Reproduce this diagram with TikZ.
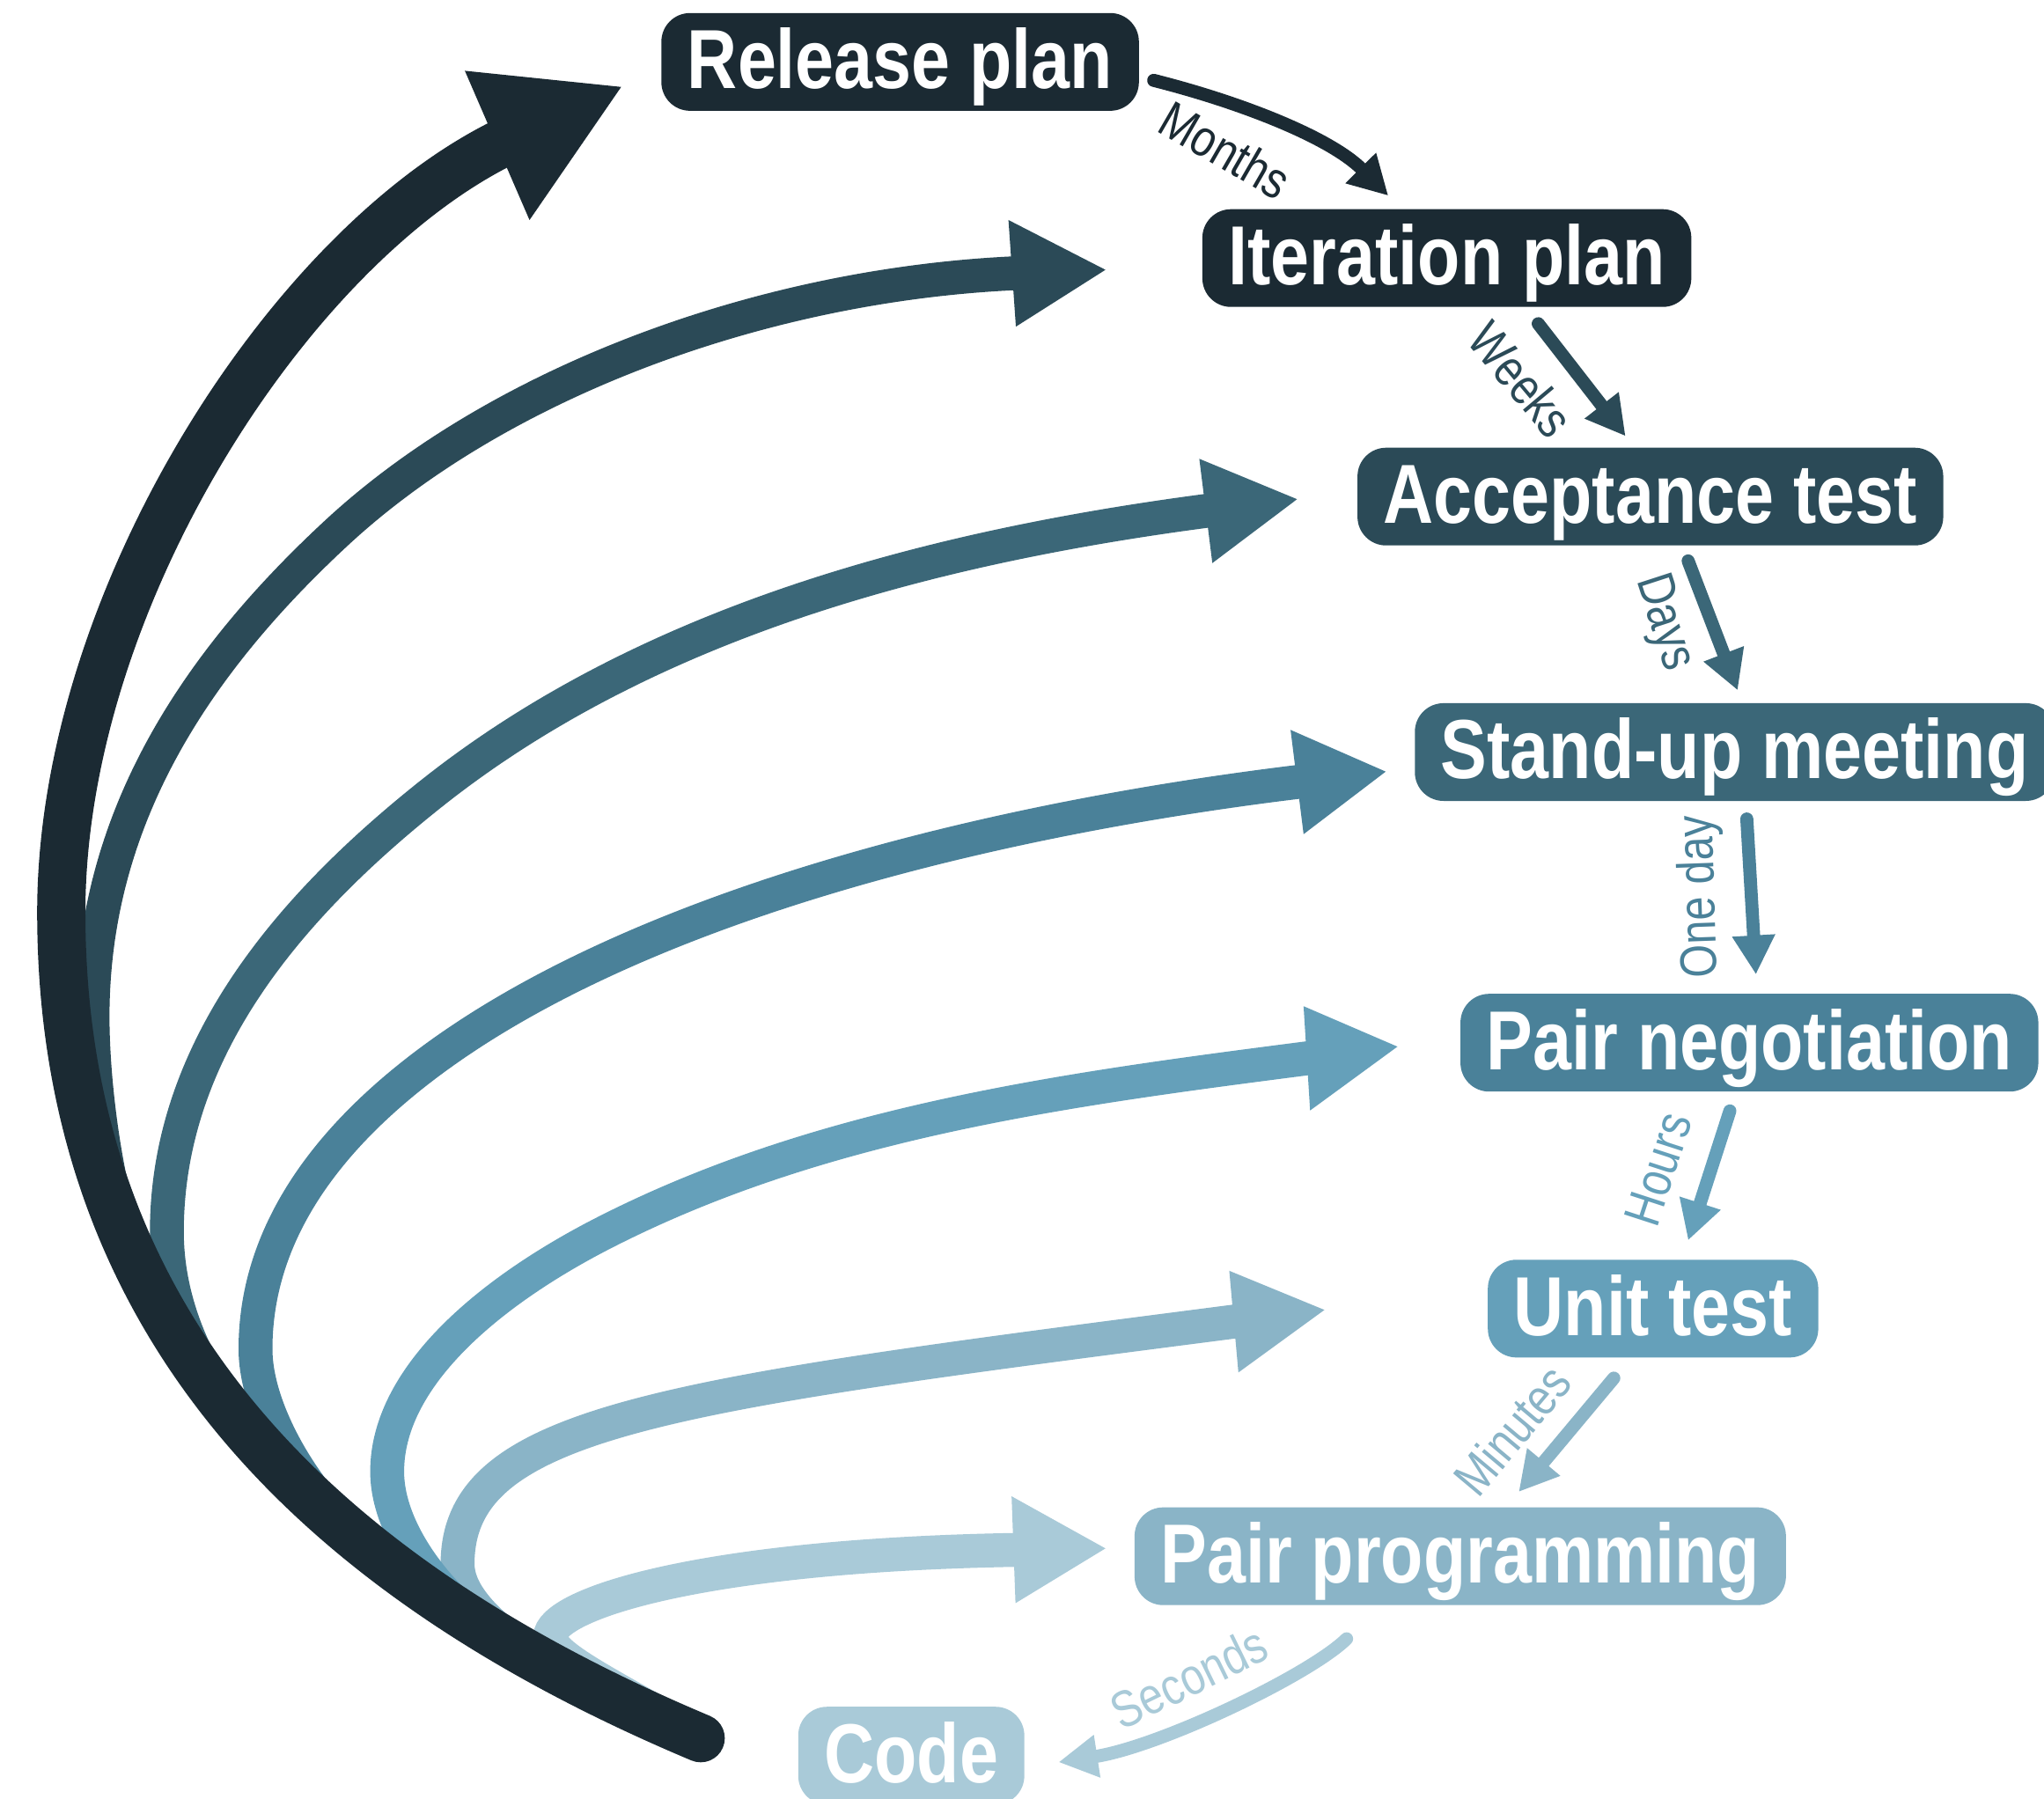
\documentclass[tikz,border=0pt]{standalone}
\usepackage{fontspec}
\setmainfont{Liberation Sans}[FakeStretch=0.83]
\usetikzlibrary{arrows.meta}
\definecolor{cA}{HTML}{1B2A33}
\definecolor{cB}{HTML}{2B4A57}
\definecolor{cC}{HTML}{3B6778}
\definecolor{cD}{HTML}{4A8199}
\definecolor{cE}{HTML}{65A0BA}
\definecolor{cF}{HTML}{8AB4C7}
\definecolor{cG}{HTML}{A9CAD8}
\begin{document}
\begin{tikzpicture}[x=0.02cm, y=-0.02cm,
  box/.style={rounded corners=0.44cm, inner xsep=0.4cm, inner ysep=0.24cm,
    text height=0.92cm, text depth=0.1cm, text=white,
    font=\fontsize{36.6}{40}\selectfont\bfseries, anchor=west},
  bigarrow/.style={line width=0.52cm},
  darkarrow/.style={line width=0.74cm, line cap=round, cA},
  smallarrow/.style={line width=0.2cm, line cap=round, -{Triangle[length=0.6cm,width=0.62cm]}},
  lab/.style={font=\fontsize{22.5}{26}\selectfont, inner sep=0pt}
]
\fill[white] (0,0) rectangle (1568,1380);
\useasboundingbox (0,0) rectangle (1568,1380);
\clip (0,0) rectangle (1568,1380);

% ---------- big curved arrows (lightest first) ----------
\draw[bigarrow, cG] (537.5,1333.6) .. controls (480,1298) and (422,1272) .. (422,1256)
  .. controls (422,1231) and (537.5,1192.5) .. (787.5,1189);
\fill[cG] (776,1148) -- (848,1188) -- (779,1230) -- cycle;

\draw[bigarrow, cF] (456.5,1296.5) .. controls (420.7,1278.6) and (351,1240) .. (351,1200)
  .. controls (351,1090) and (510.4,1070.3) .. (956.4,1012.7);
\fill[cF] (943,975) -- (1016,1005) -- (950,1053) -- cycle;

\draw[bigarrow, cE] (380.3,1254.7) .. controls (346,1234) and (297,1180) .. (297,1129)
  .. controls (297,1054) and (380.3,988) .. (465,945)
  .. controls (634.5,858.9) and (824.1,835) .. (1012.4,810.7);
\fill[cE] (1000,772) -- (1072,803) -- (1005,852) -- cycle;

\draw[bigarrow, cD] (276.5,1182.2) .. controls (237.8,1150.6) and (196,1085) .. (196,1035)
  .. controls (196,940) and (259,865.7) .. (336,810)
  .. controls (498,692.8) and (766.7,626.9) .. (1005,598.8);
\fill[cD] (990,560) -- (1063,592) -- (1000,640) -- cycle;

\draw[bigarrow, cC] (188.5,1096.8) .. controls (156,1058.9) and (128,1005) .. (128,945)
  .. controls (128,805) and (222.2,695) .. (332,608)
  .. controls (500.6,474.5) and (721.7,418) .. (935,390.7);
\fill[cC] (920,352) -- (995,383) -- (930,432) -- cycle;

\draw[bigarrow, cB] (100.6,960.3) .. controls (84,924) and (71,840) .. (71,780)
  .. controls (71,630) and (148,511) .. (258,409)
  .. controls (382.6,293.4) and (586.2,216.9) .. (786,209.3);
\fill[cB] (773.6,168.8) -- (848,207) -- (779.3,250.6) -- cycle;

\draw[darkarrow] (537.5,1333.6) .. controls (260.9,1217.2) and (47,1030) .. (47,700)
  .. controls (47,460) and (223.1,186.6) .. (390.5,107.2);
\fill[cA] (356.6,54.3) -- (476.5,66.7) -- (406.2,168.8) -- cycle;

% ---------- boxes ----------
\node[box, fill=cA] (rel)   at (507,47.5)  {Release plan};
\node[box, fill=cA] (iter)  at (922,198)   {Iteration plan};
\node[box, fill=cB] (acc)   at (1041,381)  {Acceptance test};
\node[box, fill=cC] (stand) at (1085,577)  {Stand-up meeting};
\node[box, fill=cD] (pneg)  at (1120,800)  {Pair negotiation};
\node[box, fill=cE] (unit)  at (1141,1004) {Unit test};
\node[box, fill=cF] (pprog) at (870,1194)  {Pair programming};
\node[box, fill=cG] (code)  at (612,1347)  {Code};

% ---------- small arrows ----------
\draw[smallarrow, cA] ([shift={(378,52)}]rel.north west) .. controls (950,78) and (1020,105) .. ([shift={(143,-10)}]iter.north west);
\draw[smallarrow, cB] ([shift={(258,12.5)}]iter.south west) -- ([shift={(206,-8.5)}]acc.north west);
\draw[smallarrow, cC] ([shift={(254,11.5)}]acc.south west) -- ([shift={(248,-9.5)}]stand.north west);
\draw[smallarrow, cD] ([shift={(255,13.5)}]stand.south west) -- ([shift={(227,-14.5)}]pneg.north west);
\draw[smallarrow, cE] ([shift={(207,14.5)}]pneg.south west) -- ([shift={(154,-14.5)}]unit.north west);
\draw[smallarrow, cF] ([shift={(97,15.5)}]unit.south west) -- ([shift={(295,-11.5)}]pprog.north west);
\draw[smallarrow, cG] ([shift={(163,25.5)}]pprog.south west) .. controls (1005,1285) and (890,1340) .. ([shift={(200,5)}]code.west);

% ---------- labels ----------
\node[lab, cA, rotate=-30] (lmonths) at (940,115)  {Months};
\node[lab, cB, rotate=-50] (lweeks)  at (1167,291) {Weeks};
\node[lab, cC, rotate=-72] (ldays)   at (1276,478) {Days};
\node[lab, cD, rotate=92]  (loneday) at (1305,688) {One day};
\node[lab, cE, rotate=72]  (lhours)  at (1272,897) {Hours};
\node[lab, cF, rotate=50]  (lmin)    at (1160,1097) {Minutes};
\node[lab, cG, rotate=26]  (lsec)    at (912,1287) {Seconds};
\end{tikzpicture}
\end{document}
